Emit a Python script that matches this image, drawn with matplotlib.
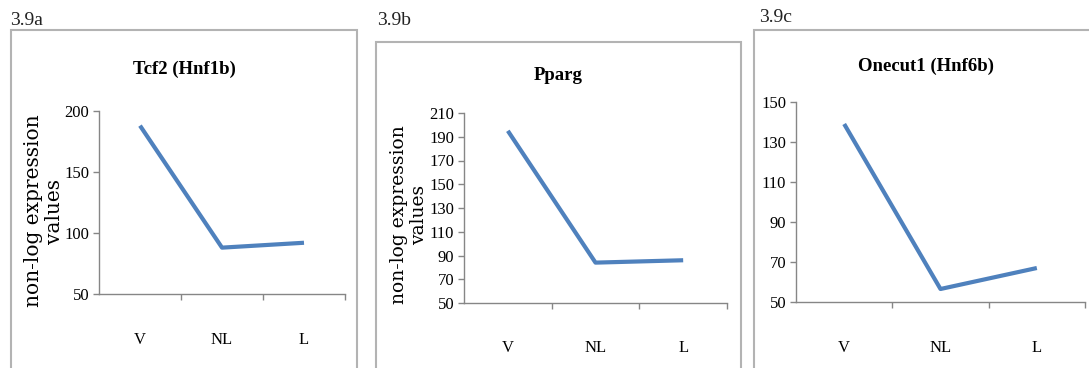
import matplotlib
matplotlib.use("Agg")
import matplotlib.pyplot as plt
from matplotlib.patches import Rectangle

W, H = 1089, 368

categories = ["V", "NL", "L"]
tcf2_values = [188, 88, 92]
pparg_values = [195, 84, 86]
onecut1_values = [139, 56.5, 67]

panels = [
    dict(tag="3.9a", title="Tcf2 (Hnf1b)", values=tcf2_values,
         yticks=[50, 100, 150, 200], ylim=(50, 200),
         ax_px=(99, 111, 345, 294), frame_px=(11, 30, 357, 400),
         tag_px=(10, 25), title_px=(184, 69), ylabel_px=(44, 211), ylabel=True, ylabel_size=14.5),
    dict(tag="3.9b", title="Pparg", values=pparg_values,
         yticks=list(range(50, 211, 20)), ylim=(50, 210),
         ax_px=(464, 113, 727, 303), frame_px=(376, 42, 741, 400),
         tag_px=(377, 25), title_px=(558, 75), ylabel_px=(409, 215), ylabel=True, ylabel_size=13.5),
    dict(tag="3.9c", title="Onecut1 (Hnf6b)", values=onecut1_values,
         yticks=list(range(50, 151, 20)), ylim=(50, 150),
         ax_px=(796, 102, 1085, 302), frame_px=(754, 30, 1100, 400),
         tag_px=(759, 22), title_px=(926, 66), ylabel_px=None, ylabel=False, ylabel_size=13.5),
]

line_color = "#4f81bd"
axis_color = "#868686"
frame_color = "#b3b3b3"
tick_font = "Liberation Serif"

fig = plt.figure(figsize=(W / 100, H / 100), dpi=100)
fig.patch.set_facecolor("white")


def fx(x):
    return x / W


def fy(y):
    return 1 - y / H


for p in panels:
    x0, y0, x1, y1 = p["frame_px"]
    rect = Rectangle((fx(x0), fy(y1)), fx(x1) - fx(x0), fy(y0) - fy(y1),
                     transform=fig.transFigure, fill=False, edgecolor=frame_color,
                     linewidth=1.5, clip_on=False)
    fig.patches.append(rect)

    fig.text(fx(p["tag_px"][0]), fy(p["tag_px"][1]), p["tag"], family="Liberation Serif",
             fontsize=14, ha="left", va="baseline", color="#222222")

    fig.text(fx(p["title_px"][0]), fy(p["title_px"][1]), p["title"], family=tick_font,
             fontsize=13.5, fontweight="bold", ha="center", va="center", color="black")

    l, t, r, b = p["ax_px"]
    ax = fig.add_axes([fx(l), fy(b), fx(r) - fx(l), fy(t) - fy(b)])
    xs = list(range(len(categories)))
    ax.plot(xs, p["values"], color=line_color, linewidth=3, solid_capstyle="butt")
    ax.set_xlim(-0.5, len(categories) - 0.5)
    ax.set_ylim(*p["ylim"])
    ax.set_yticks(p["yticks"])
    ax.set_xticks(xs)
    ax.set_xticklabels(categories)
    ax.set_xticks([0.5, 1.5, 2.5], minor=True)
    for s in ["top", "right"]:
        ax.spines[s].set_visible(False)
    for s in ["left", "bottom"]:
        ax.spines[s].set_color(axis_color)
        ax.spines[s].set_linewidth(1.0)
    ax.tick_params(axis="y", which="major", direction="out", length=4, color=axis_color,
                   width=1, pad=3, labelsize=12)
    ax.tick_params(axis="x", which="major", length=0, pad=27, labelsize=12)
    ax.tick_params(axis="x", which="minor", direction="out", length=4, color=axis_color, width=1)
    for lab in ax.get_xticklabels() + ax.get_yticklabels():
        lab.set_family(tick_font)
    ax.patch.set_alpha(0)

    if p["ylabel"]:
        fig.text(fx(p["ylabel_px"][0]), fy(p["ylabel_px"][1]), "non-log expression\nvalues",
                 family="DejaVu Serif", fontsize=p["ylabel_size"], rotation=90,
                 ha="center", va="center", multialignment="center", linespacing=1.1)

fig.savefig("out.png", dpi=100)
